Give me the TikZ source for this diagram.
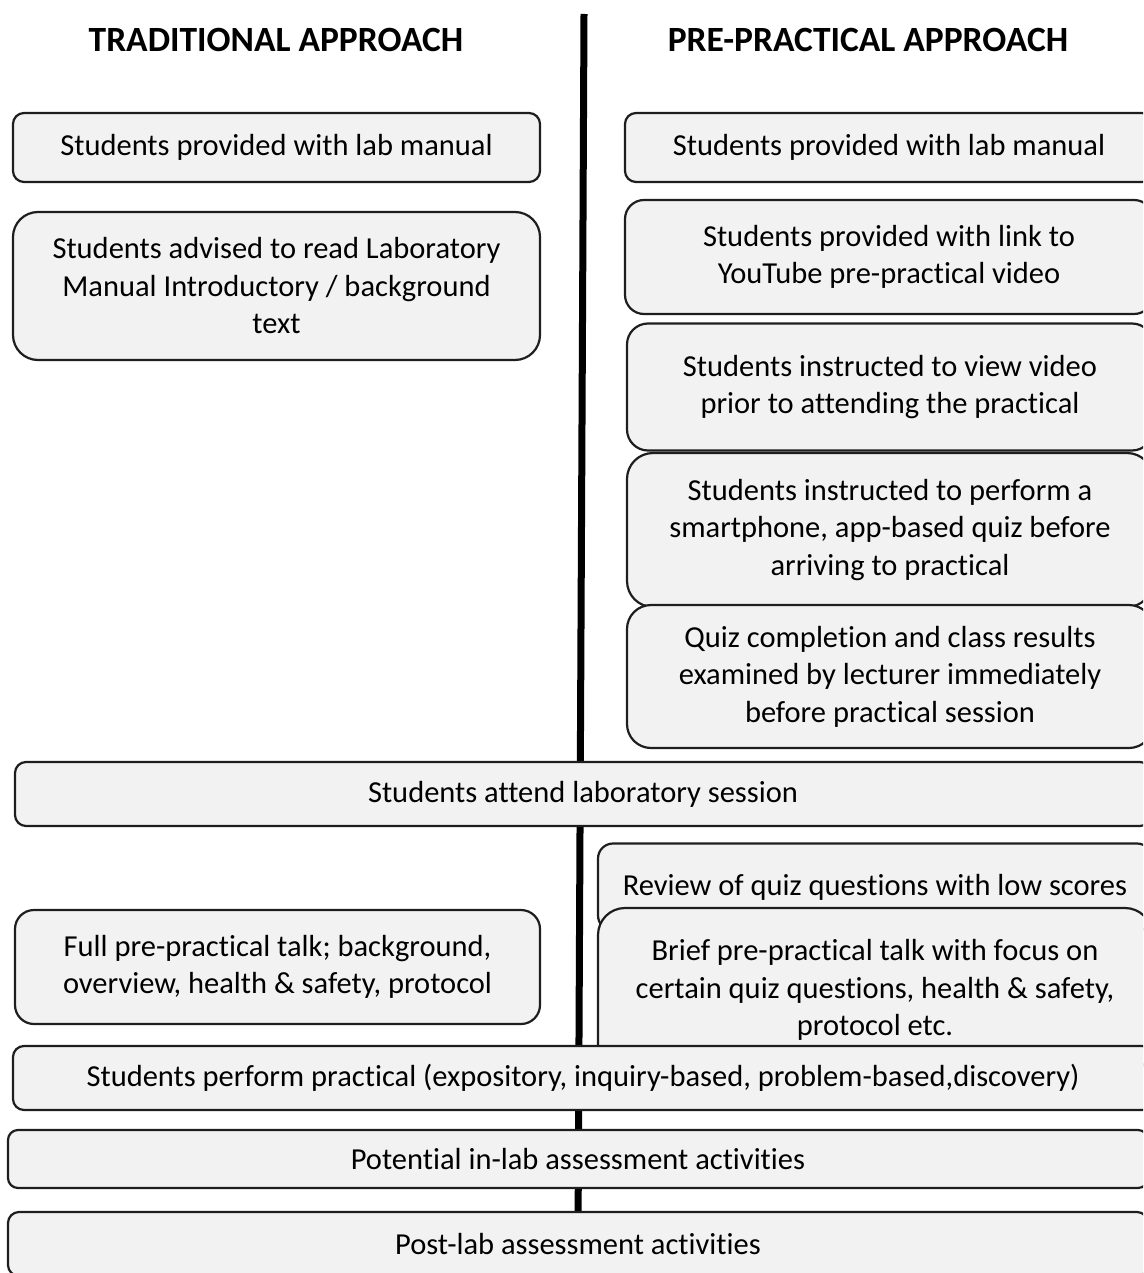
\documentclass[tikz,border=0pt]{standalone}
\usepackage{fontspec}
\setmainfont[Ligatures=NoCommon]{Carlito}
\usepackage{tikz}
\usetikzlibrary{positioning}

\definecolor{boxfill}{HTML}{F2F2F2}
\definecolor{boxline}{HTML}{1E1E1E}

\begin{document}
\begin{tikzpicture}[
	x=1pt, y=-1pt,
	box/.style = {rectangle, rounded corners=#1, draw=boxline, line width=2.2pt,
		fill=boxfill, align=center, inner sep=0pt,
		font=\fontsize{30.5}{37.5}\selectfont},
	box/.default = 11pt,
	head/.style = {font=\fontsize{35.5}{40}\selectfont\bfseries},
	divider/.style = {line width=7pt, black},
	]
	\useasboundingbox (0,0) rectangle (1143,1273);
	\clip (0,0) rectangle (1143,1273);

	% headings
	\node[head] (headTrad) at (276,40) {TRADITIONAL APPROACH};
	\node[head] (headPre) at (868,40) {PRE-PRACTICAL APPROACH};

	% dividing line
	\coordinate (divTop) at (584,14);
	\coordinate (divBot) at (578,1240);
	\draw[divider] (divTop) -- (divBot);

	% traditional side
	\node[box, minimum width=527pt, minimum height=69pt] (trad1) at (276.5,147.5)
		{Students provided with lab manual};
	\node[box=25pt, minimum width=527pt, minimum height=148pt] (trad2) at (276.5,286)
		{Students advised to read Laboratory\\ Manual Introductory / background\\ text};

	% pre-practical side
	\node[box, minimum width=528pt, minimum height=69pt] (pre1) at (889,147.5)
		{Students provided with lab manual};
	\node[box=19pt, minimum width=528pt, minimum height=114pt] (pre2) at (889,257)
		{Students provided with link to\\ YouTube pre-practical video};
	\node[box=21pt, minimum width=526pt, minimum height=127pt] (pre3) at (890,387)
		{Students instructed to view video\\ prior to attending the practical};
	\node[box=26pt, minimum width=526pt, minimum height=154pt] (pre4) at (890,530)
		{Students instructed to perform a\\ smartphone, app-based quiz before\\ arriving to practical};
	\node[box=24pt, minimum width=526pt, minimum height=143pt] (pre5) at (890,676.5)
		{Quiz completion and class results\\ examined by lecturer immediately\\ before practical session};

	% common step
	\node[box, minimum width=1136pt, minimum height=64pt] (session) at (583,794)
		{Students attend laboratory session};

	% in the lab
	\node[box=19pt, minimum width=525pt, minimum height=114pt] (trad3) at (277.5,967)
		{Full pre-practical talk; background,\\ overview, health \& safety, protocol};
	\node[box=15pt, minimum width=554pt, minimum height=87pt] (pre6) at (875,887)
		{Review of quiz questions with low scores};
	\node[box=27pt, minimum width=554pt, minimum height=164pt] (pre7) at (875,990)
		{Brief pre-practical talk with focus on\\ certain quiz questions, health \& safety,\\ protocol etc.};

	\node[box, minimum width=1140pt, minimum height=64pt] (perform) at (583,1078)
		{Students perform practical (expository, inquiry-based, problem-based,discovery)};
	\node[box=10pt, minimum width=1140pt, minimum height=58pt] (inlab) at (578,1159)
		{Potential in-lab assessment activities};
	\node[box, minimum width=1140pt, minimum height=64pt] (postlab) at (578,1244)
		{Post-lab assessment activities};
\end{tikzpicture}
\end{document}
